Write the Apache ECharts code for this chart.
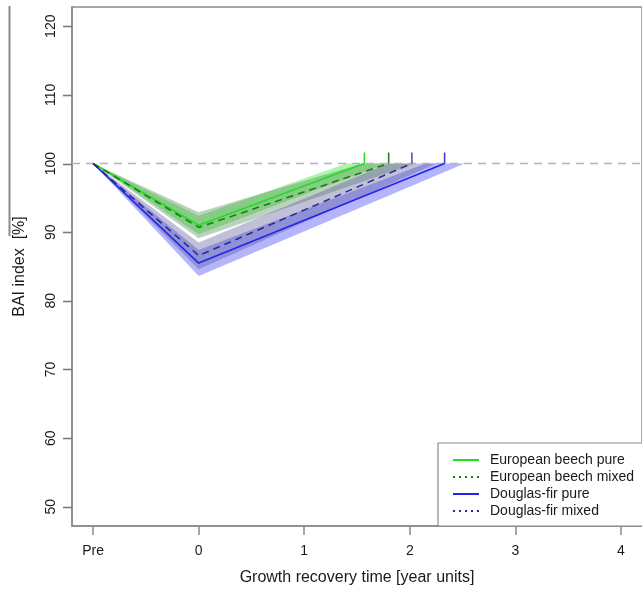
<!DOCTYPE html>
<html>
<head>
<meta charset="utf-8">
<script src="https://cdn.jsdelivr.net/npm/echarts@6/dist/echarts.min.js"></script>
<style>
  html, body { margin: 0; padding: 0; background: #fff; }
  #chart { width: 642px; height: 592px; }
</style>
</head>
<body>
<div id="chart"></div>
<script>
// Growth recovery of basal area increment (BAI) after a drought year
var xTickValues = [-1, 0, 1, 2, 3, 4];
var xTickLabels = ['Pre', '0', '1', '2', '3', '4'];
var yTickValues = [50, 60, 70, 80, 90, 100, 110, 120];

var seriesNames = ['European beech pure', 'European beech mixed', 'Douglas-fir pure', 'Douglas-fir mixed'];

// Mean trajectories: [time, BAI index]
var beechPure     = [[-1, 100], [0, 91.0], [1.57, 100]];
var beechMixed    = [[-1, 100], [0, 90.7], [1.80, 100]];
var douglasPure   = [[-1, 100], [0, 85.5], [2.33, 100]];
var douglasMixed  = [[-1, 100], [0, 86.6], [2.02, 100]];

// Recovery time markers (time at which 100 % is regained)
var recoveryTimes = [1.57, 1.80, 2.33, 2.02];
var markerTop = 101.6;

// Confidence bands: upper and lower bound at time 0 and time where each bound reaches 100
var bandUpper0  = [92.4, 92.9, 87.4, 88.5];
var bandUpperT  = [1.40, 1.55, 2.15, 1.80];
var bandLower0  = [89.7, 89.1, 83.6, 84.6];
var bandLowerT  = [1.78, 2.05, 2.52, 2.25];

var lineColors = ['#1ee01e', '#1a7d1a', '#2323ee', '#2a2a96'];
var markerColors = ['#1ee01e', '#2a7d2a', '#3a3aee', '#5555b0'];
var bandColors = ['rgba(40,225,40,0.38)', 'rgba(70,130,70,0.36)', 'rgba(60,60,245,0.38)', 'rgba(80,80,150,0.36)'];
var lineTypes = ['solid', [7, 5], 'solid', [7, 5]];

var lines = [beechPure, beechMixed, douglasPure, douglasMixed];

var font = 'Liberation Sans, Arial, sans-serif';
var axisGray = '#8a8a8a';
var xMin = -1.2, xMax = 4.2, yMin = 47.2, yMax = 122.8;

var bandData = seriesNames.map(function (n, i) {
  return [i, bandUpper0[i], bandUpperT[i], bandLower0[i], bandLowerT[i]];
});

var series = [];

// Shaded bands
series.push({
  type: 'custom',
  name: 'bands',
  silent: true,
  z: 1,
  data: bandData,
  renderItem: function (params, api) {
    var i = api.value(0);
    var pts = [
      api.coord([-1, 100]),
      api.coord([0, api.value(1)]),
      api.coord([api.value(2), 100]),
      api.coord([api.value(4), 100]),
      api.coord([0, api.value(3)])
    ];
    return {
      type: 'polygon',
      shape: { points: pts },
      style: { fill: bandColors[i], stroke: null }
    };
  }
});

// Reference line at 100 %
series.push({
  type: 'line',
  name: 'ref',
  silent: true,
  symbol: 'none',
  z: 2,
  data: [[xMin, 100], [xMax, 100]],
  lineStyle: { color: '#b4b4b4', width: 1.6, type: [8, 6] }
});

// Mean trajectories
lines.forEach(function (d, i) {
  series.push({
    type: 'line',
    name: seriesNames[i],
    data: d,
    symbol: 'none',
    z: 3,
    lineStyle: { color: lineColors[i], width: 1.6, type: lineTypes[i] },
    itemStyle: { color: lineColors[i] }
  });
});

// Recovery time markers
series.push({
  type: 'custom',
  name: 'markers',
  silent: true,
  z: 4,
  data: recoveryTimes.map(function (t, i) { return [i, t]; }),
  renderItem: function (params, api) {
    var i = api.value(0);
    var a = api.coord([api.value(1), 100]);
    var b = api.coord([api.value(1), markerTop]);
    return {
      type: 'line',
      shape: { x1: a[0], y1: a[1], x2: b[0], y2: b[1] },
      style: { stroke: markerColors[i], lineWidth: 1.6 }
    };
  }
});

var hiddenSymbol = { opacity: 0, color: 'transparent', borderWidth: 0 };

var chart = echarts.init(document.getElementById('chart'), null, { renderer: 'canvas' });
chart.setOption({
  animation: false,
  backgroundColor: '#ffffff',
  textStyle: { fontFamily: font },
  grid: {
    left: 72, top: 7, width: 571, height: 519,
    show: true, borderColor: axisGray, borderWidth: 1.5, backgroundColor: 'transparent'
  },
  xAxis: {
    type: 'value',
    position: 'bottom',
    min: xMin, max: xMax,
    name: 'Growth recovery time [year units]',
    nameLocation: 'middle',
    nameGap: 44,
    nameTextStyle: { fontSize: 16, color: '#1a1a1a', fontFamily: font },
    axisLine: { show: true, onZero: false, lineStyle: { color: axisGray, width: 1.5 } },
    splitLine: { show: false },
    axisTick: { show: true, length: 9, customValues: xTickValues, lineStyle: { color: axisGray, width: 1.5 } },
    axisLabel: {
      customValues: xTickValues,
      margin: 18, fontSize: 14, color: '#1a1a1a', fontFamily: font,
      formatter: function (v) {
        var k = xTickValues.indexOf(v);
        return k >= 0 ? xTickLabels[k] : '';
      }
    }
  },
  yAxis: {
    type: 'value',
    position: 'left',
    min: yMin, max: yMax,
    name: 'BAI index  [%]',
    nameLocation: 'middle',
    nameGap: 44,
    nameRotate: 90,
    nameTextStyle: { fontSize: 16, color: '#1a1a1a', fontFamily: font },
    axisLine: { show: true, onZero: false, lineStyle: { color: axisGray, width: 1.5 } },
    splitLine: { show: false },
    axisTick: { show: false },
    axisLabel: {
      customValues: yTickValues,
      rotate: 90, margin: 14, fontSize: 14, color: '#1a1a1a', fontFamily: font
    }
  },
  legend: {
    orient: 'vertical',
    left: 438, top: 443,
    padding: [10, 20, 8, 14],
    itemGap: 3,
    itemWidth: 26, itemHeight: 14,
    borderColor: axisGray, borderWidth: 1.2, borderRadius: 0,
    backgroundColor: '#ffffff',
    textStyle: { fontSize: 14, color: '#1a1a1a', fontFamily: font, padding: [0, 0, 0, 6] },
    data: [
      { name: seriesNames[0], lineStyle: { type: 'solid', width: 2 }, itemStyle: hiddenSymbol },
      { name: seriesNames[1], lineStyle: { type: [2, 4], width: 2 }, itemStyle: hiddenSymbol },
      { name: seriesNames[2], lineStyle: { type: 'solid', width: 2 }, itemStyle: hiddenSymbol },
      { name: seriesNames[3], lineStyle: { type: [2, 4], width: 2 }, itemStyle: hiddenSymbol }
    ]
  },
  series: series
});

// Outward tick marks on the left axis, placed through the axis scale
var decorations = [{
  type: 'line',
  shape: { x1: 9.5, y1: 6, x2: 9.5, y2: 236 },
  style: { stroke: '#8a8a8a', lineWidth: 2 }
}];
yTickValues.forEach(function (v) {
  var p = chart.convertToPixel({ gridIndex: 0 }, [xMin, v]);
  var y = Math.round(p[1]) + 0.5;
  decorations.push({
    type: 'line',
    z: 100,
    shape: { x1: p[0], y1: y, x2: p[0] - 9, y2: y },
    style: { stroke: '#7a7a7a', lineWidth: 1.6 }
  });
});
chart.setOption({ graphic: decorations });
</script>
</body>
</html>
